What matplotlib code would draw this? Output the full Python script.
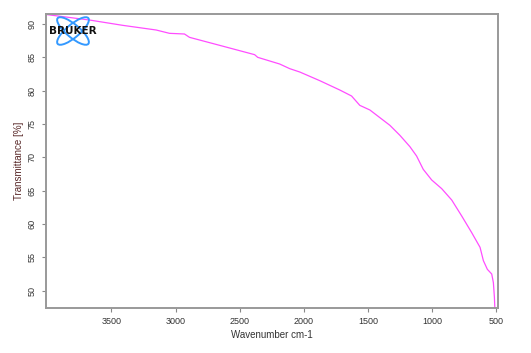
import matplotlib.pyplot as plt
from matplotlib.patches import Ellipse

plt.rcParams['font.family'] = ['Liberation Sans', 'DejaVu Sans']

# spectrum
wavenumber = [3999, 3672, 3412, 3151, 3047, 2930, 2891, 2656, 2383, 2359,
              2188, 2109, 2031, 1875, 1719, 1627, 1563, 1484, 1328, 1250,
              1172, 1120, 1068, 1002, 924, 846, 768, 690, 625, 599,
              568, 534, 521, 513, 510]
transmittance = [91.4, 90.6, 89.8, 89.1, 88.6, 88.5, 88.0, 86.8, 85.4, 85.0,
                 84.0, 83.3, 82.8, 81.5, 80.1, 79.2, 77.8, 77.1, 74.8, 73.3,
                 71.6, 70.2, 68.2, 66.6, 65.3, 63.6, 61.2, 58.7, 56.5, 54.5,
                 53.2, 52.5, 51.2, 49.0, 47.5]

xticks = [3500, 3000, 2500, 2000, 1500, 1000, 500]
yticks = [50, 55, 60, 65, 70, 75, 80, 85, 90]

W, H = 531, 353
fig = plt.figure(figsize=(W / 100, H / 100), dpi=100)
ax = fig.add_axes([46 / W, 1 - 308 / H, 452 / W, 294 / H])

ax.plot(wavenumber, transmittance, color="#ff4dff", lw=0.9)

ax.set_xlim(4010, 485)
ax.set_ylim(47.4, 91.5)
ax.set_xticks(xticks)
ax.set_yticks(yticks)
ax.tick_params(colors="#888888", labelcolor="#333333", labelsize=6.5,
               length=3, width=0.8)
for lab in ax.get_yticklabels():
    lab.set_rotation(90)
    lab.set_va("center")
for s in ax.spines.values():
    s.set_color("#999999")
    s.set_linewidth(1.4)

ax.set_xlabel("Wavenumber cm-1", fontsize=7, color="#333333", labelpad=3)
ax.set_ylabel("Transmittance [%]", fontsize=7, color="#5a2a2a", labelpad=3)

# bruker logo in its own square axes
lg = fig.add_axes([52 / W, 1 - 48 / H, 42 / W, 34 / H])
lg.set_xlim(0, 42)
lg.set_ylim(0, 34)
lg.set_aspect("equal")
lg.axis("off")
for ang in (40, -40):
    lg.add_patch(Ellipse((21, 17), 40, 13, angle=ang, fill=False,
                         edgecolor="#3399ff", lw=1.4))
lg.text(21, 17, "BRUKER", ha="center", va="center", fontsize=7.5,
        fontweight="bold", color="#111111", family="DejaVu Sans")

plt.savefig("out.png")
